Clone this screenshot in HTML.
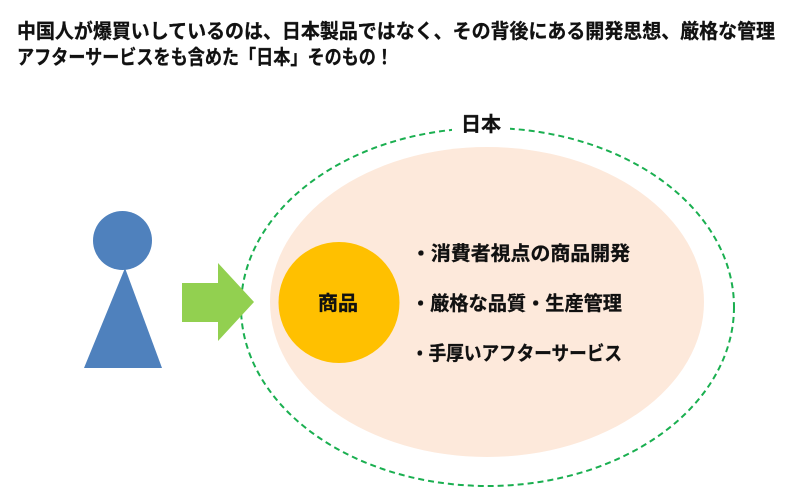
<!DOCTYPE html>
<html><head><meta charset="utf-8"><style>
html,body{margin:0;padding:0;background:#fff;}
svg{display:block;}
text{font-family:"Liberation Sans","Noto Sans CJK JP",sans-serif;font-weight:bold;fill:#111;stroke:#111;stroke-width:0.3;}
</style></head><body>
<svg width="800" height="502" viewBox="0 0 800 502" xmlns="http://www.w3.org/2000/svg">
<text x="17" y="38" font-size="20" textLength="758" lengthAdjust="spacingAndGlyphs">中国人が爆買いしているのは、日本製品ではなく、その背後にある開発思想、厳格な管理</text>
<text x="17" y="64" font-size="20" textLength="376" lengthAdjust="spacingAndGlyphs">アフターサービスをも含めた「日本」そのもの！</text>
<ellipse cx="487.5" cy="307" rx="246.5" ry="179" fill="none" stroke="#1aaf50" stroke-width="2" stroke-dasharray="6,4"/>
<rect x="452" y="110" width="58" height="30" fill="#fff"/>
<text x="481" y="131" font-size="20" text-anchor="middle">日本</text>
<ellipse cx="487" cy="302" rx="217" ry="155" fill="#fde9db"/>
<circle cx="339" cy="302.5" r="60.5" fill="#ffc000"/>
<text x="338" y="310" font-size="20" text-anchor="middle">商品</text>
<text x="411" y="260" font-size="19.5" textLength="219" lengthAdjust="spacingAndGlyphs">・消費者視点の商品開発</text>
<text x="411" y="310" font-size="19.5" textLength="211" lengthAdjust="spacingAndGlyphs">・厳格な品質・生産管理</text>
<text x="411" y="360" font-size="19.5" textLength="211" lengthAdjust="spacingAndGlyphs">・手厚いアフターサービス</text>
<circle cx="122.5" cy="240.5" r="29.5" fill="#4f81bd"/>
<polygon points="125,268 162,368 84,368" fill="#4f81bd"/>
<polygon points="182,283 218,283 218,263 254,302 218,341 218,322 182,322" fill="#92d050"/>
</svg>
</body></html>
